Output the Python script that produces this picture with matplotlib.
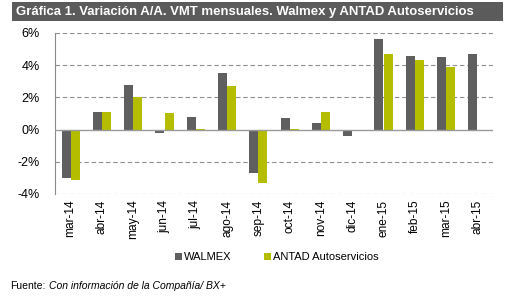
import matplotlib
matplotlib.use("Agg")
import matplotlib.pyplot as plt
import numpy as np
from matplotlib.patches import Rectangle
from matplotlib.ticker import FuncFormatter

plt.rcParams['font.family'] = ['Liberation Sans', 'DejaVu Sans']

months = ["mar-14", "abr-14", "may-14", "jun-14", "jul-14", "ago-14", "sep-14",
          "oct-14", "nov-14", "dic-14", "ene-15", "feb-15", "mar-15", "abr-15"]
walmex = [-3.0, 1.1, 2.8, -0.2, 0.8, 3.5, -2.7, 0.7, 0.4, -0.4, 5.6, 4.6, 4.5, 4.7]
antad = [-3.1, 1.1, 2.0, 1.0, 0.05, 2.7, -3.3, 0.05, 1.1, 0.0, 4.7, 4.3, 3.9, np.nan]
yticks = [-4, -2, 0, 2, 4, 6]

title = "Gráfica 1. Variación A/A. VMT mensuales. Walmex y ANTAD Autoservicios"
c_wal = "#5f5f5f"
c_ant = "#b4bd00"

fig = plt.figure(figsize=(5.06, 2.96), dpi=100)
W, H = 506, 296

# title banner
fig.patches.append(Rectangle((12 / W, 1 - 21 / H), (503 - 12) / W, 19 / H,
                             transform=fig.transFigure, facecolor="#5b5b5b",
                             edgecolor="none", zorder=0))
fig.text(16 / W, 1 - 11.5 / H, title, color="white", fontsize=9.45,
         fontweight="bold", ha="left", va="center")

ax = fig.add_axes([55 / W, 1 - 194 / H, (493 - 55) / W, (194 - 33) / H])
x = np.arange(len(months))
w = 0.29
ax.bar(x - w / 2, walmex, width=w, color=c_wal, label="WALMEX", zorder=3)
ax.bar(x + w / 2, antad, width=w, color=c_ant, label="ANTAD Autoservicios", zorder=3)

ax.set_xlim(-0.5, len(months) - 0.5)
ax.set_ylim(-4, 6)
ax.set_yticks(yticks)
ax.yaxis.set_major_formatter(FuncFormatter(lambda v, p: f"{v:.0f}%"))
ax.set_xticks(x)
ax.set_xticklabels(months, rotation=90, fontsize=8.6)
ax.tick_params(axis="y", labelsize=9, length=0, pad=11)
ax.tick_params(axis="x", length=0, pad=4)

for v in yticks:
    if v == 0:
        continue
    ax.axhline(v, color="#8f8f8f", lw=0.8, ls=(0, (4, 2.5)), zorder=1)
ax.axhline(0, color="#9a9a9a", lw=1.0, zorder=4)

for s in ["top", "right", "bottom"]:
    ax.spines[s].set_visible(False)
ax.spines["left"].set_color("#8a8a8a")
ax.spines["left"].set_linewidth(0.8)

leg = fig.legend(loc="center", bbox_to_anchor=(277 / W, 1 - 257 / H), ncol=2,
                 frameon=False, fontsize=8, handlelength=0.6, handleheight=0.6,
                 handletextpad=0.2, columnspacing=2.9)

fig.text(10 / W, 1 - 286 / H, "Fuente:", fontsize=7.5, ha="left", va="center")
fig.text(49 / W, 1 - 286 / H, "Con información de la Compañía/ BX+", fontsize=7.5,
         style="italic", ha="left", va="center")

fig.savefig("out.png", dpi=100)
